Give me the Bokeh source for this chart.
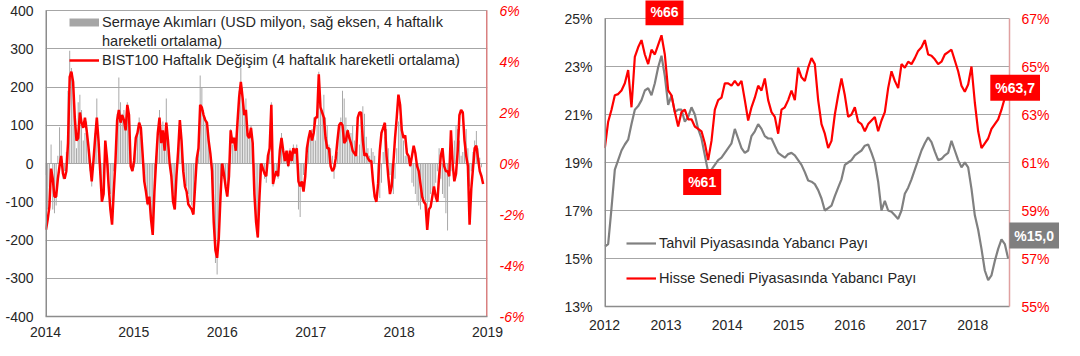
import numpy as np
import pandas as pd
from bokeh.plotting import figure
from bokeh.models import (Range1d, LinearAxis, FixedTicker, PrintfTickFormatter,
                          DatetimeTickFormatter, Legend, LegendItem, Label)
from bokeh.core.properties import value
from bokeh.layouts import row
from bokeh.embed import file_html
from bokeh.resources import INLINE

FONT = "Liberation Sans"
RED = "#ff0000"
BAR = "#a6a6a6"
GRAYLINE = "#808080"
GRID = "#a6a6a6"
TXT = "#262626"
AXIS = "#8c8c8c"

# ---------------- Left chart data (weekly) ----------------
left_years = [2014, 2015, 2016, 2017, 2018, 2019]
left_ticks = [-400, -300, -200, -100, 0, 100, 200, 300, 400]
pct_ticks = [-6, -4, -2, 0, 2, 4, 6]

bist_2014 = [-2.6, -2.2, -1.7, -0.2, -0.6, -1.3, -1.3, -0.6, -0.1, 0.3, -0.4, -0.6, -0.3, 0.8, 3.4, 3.6, 3.2, 1.8,
             0.9, 1.0, 2.0, 1.6, 1.4, 1.8, 1.3, 0.7, 0.0, -0.7, 0.1, 1.0, 1.8, 0.9, -0.3, -1.5, -1.2, 0.9, 0.2,
             -0.9, -1.8, -2.4, -1.1, 0.1, 1.7, 2.1, 1.6, 1.9, 1.7, 1.3, 2.3, 1.9]
bist_2015 = [-0.1, -0.3, 0.1, 1.0, 1.2, 1.6, 1.4, 0.4, -0.7, -1.1, -1.6, -1.3, -2.2, -2.8, -1.1, 0.1, 1.2, 1.8, 0.8,
             1.3, 0.5, 1.6, 0.9, 0.0, -0.5, -1.5, -1.8, -0.5, 0.5, 1.7, 0.9, -0.3, -0.9, -1.1, -1.6, -1.7, -1.8,
             -2.0, -0.9, 0.2, 0.6, 2.3, 2.2, 1.9, 1.7, 1.6, 0.9, 0.4, -0.3, -2.3]
bist_2016 = [-3.4, -3.7, -2.9, -1.3, 0.0, -0.4, -0.9, -1.3, -0.5, 1.3, 0.8, 1.0, 0.5, 1.6, 2.6, 3.2, 2.6, 1.9, 2.1,
             1.1, 1.0, 1.4, 0.8, -1.2, -2.3, -2.9, -1.3, 0.0, -0.2, -0.4, -0.5, 0.3, 0.6, 2.3, -0.8, -0.5, -0.3,
             -0.5, 0.5, 1.0, 0.5, 0.1, 0.5, -0.1, 0.5, 0.1, 0.6, 0.4, 0.6, -0.7, -0.9]
bist_2017 = [-0.7, -1.1, -0.5, 0.6, 1.0, 1.3, 0.9, 1.2, 1.8, 1.8, 3.5, 2.2, 2.0, 1.8, 1.0, 0.6, 0.6, -0.1, -0.3,
             -0.2, 0.2, 0.9, 1.5, 1.6, 1.5, 0.8, 0.9, 1.3, 1.0, 0.8, 0.5, 0.4, 0.3, 1.8, 2.0, 2.0, 0.9, 0.3, 0.4,
             0.2, 0.1, 0.1, -0.7, -1.3, -1.5, -0.8, 0.5, 1.2, 1.4, 1.6]
bist_2018 = [0.3, -0.5, -1.2, -0.9, 0.0, 1.0, 1.8, 2.7, 2.3, 1.3, 1.0, 1.1, 0.4, 0.3, -0.1, 0.3, 0.7, 0.4, -0.1,
             -0.3, -0.8, -1.3, -1.5, -1.6, -2.6, -1.8, -1.7, -1.3, -0.9, -1.3, -1.5, -0.5, 0.3, 0.6, -0.1, -0.3,
             -0.3, -0.5, 1.3, 0.0, -0.7, -0.4, 0.5, 1.9, 2.1, 2.0, 0.9, 0.3, -0.1, -2.4, -1.0, -0.2, 0.6, 0.7,
             0.2, -0.3, -0.5, -0.8]

flows_2014 = [-30, -120, -60, 50, -120, -130, -110, 20, 95, 60, -40, -20, 30, 190, 295, 250, 200, 100, 40, 160,
              180, 140, 60, 80, 110, 40, -20, -60, 20, 80, 170, 40, -30, -90, -60, 50, 20, -40, -80, -100, -20, 60,
              130, 225, 160, 130, 140, 100, 160, 120]
flows_2015 = [10, -20, -10, 60, 80, 120, 70, 20, -40, -80, -110, -90, -150, -160, -60, 20, 80, 140, 60, 110, 40,
              170, 60, -10, -40, -80, -110, -30, 30, 110, 60, -20, -50, -60, -80, -100, -110, -130, -40, 20, 50,
              230, 200, 140, 120, 100, 60, 20, -30, -120]
flows_2016 = [-260, -290, -200, -100, -20, -40, -60, -80, -20, 90, 50, 70, 40, 110, 190, 250, 200, 130, 170, 90, 70,
              100, 40, -80, -150, -195, -100, -10, -20, -40, -50, 20, 40, 160, -60, -30, -20, -40, 30, 80, 40, 10,
              30, -10, 40, 20, 50, 30, 50, -120, -140]
flows_2017 = [-60, -30, -20, 20, 60, 80, 90, 120, 60, 100, 240, 160, 140, 180, 120, 100, 50, 40, 20, -40, -10, 30,
              90, 120, 190, 170, 120, 90, 60, 80, 100, 60, 40, 20, 50, 110, 150, 130, 70, 40, 20, 40, 30, 20, 0,
              -40, -90, -50, 30, 70]
flows_2018 = [90, 40, -30, -60, -80, -40, 40, 110, 120, 90, 60, 20, 40, 20, -10, -50, -60, -80, -100, -110, -120,
              -100, -90, -130, -150, -100, -80, -70, -60, -50, -20, 40, -40, -80, -90, -130, -175, -60, -20, 20, 60,
              100, 90, 60, 20, 30, 60, 90, 40, -60, -20, 30, 60, 85, 40, 15, -10]

bist = bist_2014 + bist_2015 + bist_2016 + bist_2017 + bist_2018
flows = flows_2014 + flows_2015 + flows_2016 + flows_2017 + flows_2018
bist_dates = pd.date_range("2014-01-03", periods=len(bist), freq="7D")
flow_dates = pd.date_range("2014-01-03", periods=len(flows), freq="7D")

# ---------------- Right chart data ----------------
right_years = [2012, 2013, 2014, 2015, 2016, 2017, 2018]
bond_ticks = [13, 15, 17, 19, 21, 23, 25]
equity_ticks = [55, 57, 59, 61, 63, 65, 67]

equity_share = [61.6, 62.7, 63.2, 63.8, 63.85, 64.0, 64.3, 64.85, 63.3, 65.4,
                65.8, 66.1, 65.5, 65.1, 65.7, 65.5, 65.9, 66.3, 65.5, 64.0,
                63.8, 63.1, 62.5, 63.1, 63.2, 62.8, 62.8, 62.5, 62.4, 62.3,
                61.8, 61.1, 61.9, 63.2, 63.6, 63.7, 64.3, 64.3, 64.2, 64.4,
                64.2, 64.4, 63.6, 62.75, 63.3, 63.7, 64.2, 64.0, 64.5, 63.6,
                63.1, 62.9, 62.2, 63.2, 63.3, 63.6, 64.0, 63.6, 64.95, 64.55,
                64.4, 64.95, 65.35, 65.1, 63.6, 62.6, 62.2, 61.6, 61.9, 63.0,
                63.8, 64.5, 63.8, 62.9, 63.0, 63.3, 62.7, 62.6, 62.3, 62.6,
                62.75, 62.9, 62.3, 62.75, 63.1, 64.1, 64.8, 64.4, 64.1, 65.1,
                64.95, 65.2, 65.1, 65.35, 65.65, 65.8, 66.1, 65.5, 65.45, 65.3,
                65.1, 65.2, 65.5, 65.6, 65.7, 65.25, 64.8, 64.2, 63.95, 64.25,
                65.0, 63.5, 62.3, 61.6, 61.8, 62.0, 62.4, 62.6, 62.8, 63.2,
                63.7, 63.7]
bond_share = [15.5, 15.6, 17.1, 18.7, 19.1, 19.5, 19.75, 19.95, 20.6, 21.2,
              21.35, 21.6, 22.0, 22.1, 21.8, 22.3, 22.97, 23.45, 22.6, 21.4,
              21.8, 21.1, 21.2, 21.2, 20.7, 20.9, 21.3, 21.0, 20.4, 20.0,
              19.3, 18.6, 18.7, 18.9, 19.1, 19.2, 19.4, 19.6, 19.8, 20.4,
              20.0, 19.6, 19.4, 19.5, 20.1, 20.3, 20.6, 20.4, 20.1, 20.0,
              20.0, 19.7, 19.4, 19.3, 19.2, 19.35, 19.4, 19.3, 19.1, 18.9,
              18.6, 18.25, 18.2, 18.1, 17.85, 17.5, 17.0, 17.1, 17.2, 17.6,
              17.95, 18.3, 18.9, 19.0, 19.1, 19.3, 19.4, 19.5, 19.7, 19.75,
              19.4, 19.0, 18.2, 17.0, 17.4, 17.0, 16.95, 16.8, 16.65, 17.0,
              17.7, 17.95, 18.3, 18.7, 19.1, 19.5, 19.8, 20.05, 19.85, 19.45,
              19.1, 19.15, 19.3, 19.4, 19.9, 19.5, 19.1, 18.8, 19.0, 18.8,
              17.9, 16.8, 16.2, 15.4, 14.5, 14.1, 14.3, 14.9, 15.4, 15.8,
              15.6, 15.0]
equity_dates = pd.date_range("2012-01-03", "2018-07-31", periods=len(equity_share))
bond_dates = pd.date_range("2012-01-03", "2018-07-31", periods=len(bond_share))

label_peak = "%66"
label_trough = "%61"
label_equity_last = "%63,7"
label_bond_last = "%15,0"

legend_left_1a = "Sermaye Akımları (USD milyon, sağ eksen, 4 haftalık"
legend_left_1b = "hareketli ortalama)"
legend_left_2 = "BIST100 Haftalık Değişim (4 haftalık hareketli ortalama)"
legend_right_1 = "Tahvil Piyasasında Yabancı Payı"
legend_right_2 = "Hisse Senedi Piyasasında Yabancı Payı"


def ms(ts):
    return pd.Timestamp(ts).value / 1e6


def style_axis(ax, color=TXT, line_color=None, italic=False, size="14px", standoff=12):
    ax.axis_line_color = line_color
    ax.axis_line_width = 1.5
    ax.major_tick_line_color = None
    ax.minor_tick_line_color = None
    ax.major_tick_out = 0
    ax.major_tick_in = 0
    ax.major_label_standoff = standoff
    ax.major_label_text_font = FONT
    ax.major_label_text_font_size = size
    ax.major_label_text_color = color
    if italic:
        ax.major_label_text_font_style = "italic"


# Both frames share the same vertical extent (row layouts align them): canvas rows 0..316.
FRAME_BOTTOM = 316

# ---------------- Left figure ----------------
# visible value area spans rows 10..316
lo, hi = left_ticks[0], left_ticks[-1]
l_top = hi + (hi - lo) * 10 / 306
p_top = pct_ticks[-1] + (pct_ticks[-1] - pct_ticks[0]) * 10 / 306

p1 = figure(width=540, height=356, x_axis_type="datetime", title=None,
            x_range=Range1d(ms("2014-01-01"), ms("2019-01-01")), y_range=Range1d(lo, l_top),
            output_backend="svg", toolbar_location=None,
            min_border_left=45, min_border_right=53, min_border_top=0, min_border_bottom=40)
p1.extra_y_ranges = {"pct": Range1d(pct_ticks[0], p_top)}
p1.outline_line_color = None
p1.xgrid.grid_line_color = None
p1.ygrid.grid_line_color = GRID
p1.ygrid.ticker = FixedTicker(ticks=left_ticks)

p1.vbar(x=flow_dates, top=flows, width=4 * 24 * 3600 * 1000, color=BAR, line_color=None)
red_l = p1.line(bist_dates, bist, y_range_name="pct", color=RED, line_width=2.5)

lx0, lx1 = ms("2014-01-01"), ms("2019-01-01")
p1.segment(x0=[lx0], y0=[lo], x1=[lx0], y1=[hi], color=AXIS, line_width=3)
p1.segment(x0=[lx1], y0=[pct_ticks[0]], x1=[lx1], y1=[pct_ticks[-1]], y_range_name="pct",
           color="#d98080", line_width=3)

p1.yaxis.ticker = FixedTicker(ticks=left_ticks)
p1.yaxis.formatter = PrintfTickFormatter(format="%d")
style_axis(p1.yaxis[0])
p1.xaxis.ticker = FixedTicker(ticks=[ms(f"{y}-01-01") for y in left_years])
p1.xaxis.formatter = DatetimeTickFormatter(years="%Y", months="%Y", days="%Y", hours="%Y")
style_axis(p1.xaxis[0], line_color=AXIS, standoff=10)

rax = LinearAxis(y_range_name="pct", ticker=FixedTicker(ticks=pct_ticks),
                 formatter=PrintfTickFormatter(format="%d%%"))
style_axis(rax, color=RED, italic=True)
p1.add_layout(rax, "right")

d_bar = p1.line(x=flow_dates[:2], y=[np.nan, np.nan], color=BAR, line_width=8)
d_blank = p1.line(x=flow_dates[:2], y=[np.nan, np.nan], line_alpha=0)
leg1 = Legend(items=[LegendItem(label=legend_left_1a, renderers=[d_bar]),
                     LegendItem(label=legend_left_1b, renderers=[d_blank]),
                     LegendItem(label=legend_left_2, renderers=[red_l])],
              location=(24, 247), background_fill_alpha=0, border_line_color=None,
              padding=0, margin=0, spacing=1, label_height=18, glyph_height=18, glyph_width=30,
              label_standoff=3, label_text_font=FONT, label_text_font_size="14.5px",
              label_text_color=TXT)
p1.add_layout(leg1)

# ---------------- Right figure ----------------
# The frame is widened (right/top/bottom) so the value boxes are not clipped;
# the visible chart area is bounded by drawn lines.
x0 = ms("2012-01-01")
x1 = ms("2018-08-08")
x_full = x1 + (x1 - x0) * 51 / 405
b_lo, b_hi = bond_ticks[0], bond_ticks[-1]
e_lo, e_hi = equity_ticks[0], equity_ticks[-1]
b_rng = Range1d(b_lo - (b_hi - b_lo) * 10 / 288, b_hi + (b_hi - b_lo) * 18 / 288)
e_rng = Range1d(e_lo - (e_hi - e_lo) * 10 / 288, e_hi + (e_hi - e_lo) * 18 / 288)

p2 = figure(width=540, height=356, x_axis_type="datetime", title=None,
            x_range=Range1d(x0, x_full), y_range=b_rng,
            output_backend="svg", toolbar_location=None,
            min_border_left=64, min_border_right=20, min_border_top=0, min_border_bottom=40)
p2.extra_y_ranges = {"eq": e_rng}
p2.outline_line_color = None
p2.xgrid.grid_line_color = None
p2.ygrid.grid_line_color = None

gl = bond_ticks[1:]
p2.segment(x0=[x0] * len(gl), y0=gl, x1=[x1] * len(gl), y1=gl, color=GRID, line_width=1)

g_line = p2.line(bond_dates, bond_share, color=GRAYLINE, line_width=2.2)
r_line = p2.line(equity_dates, equity_share, y_range_name="eq", color=RED, line_width=2.2)

# frame lines
p2.segment(x0=[x0], y0=[b_lo], x1=[x0], y1=[b_hi], color=AXIS, line_width=3)
p2.segment(x0=[x0], y0=[b_lo], x1=[x1], y1=[b_lo], color=AXIS, line_width=1.5)
p2.segment(x0=[x1], y0=[b_lo], x1=[x1], y1=[b_hi], color="#e0a0a0", line_width=1.5)

p2.yaxis.ticker = FixedTicker(ticks=bond_ticks)
p2.yaxis.formatter = PrintfTickFormatter(format="%d%%")
style_axis(p2.yaxis[0])
p2.xaxis.ticker = FixedTicker(ticks=[ms(f"{y}-01-01") for y in right_years])
p2.xaxis.formatter = DatetimeTickFormatter(years="%Y", months="%Y", days="%Y", hours="%Y")
style_axis(p2.xaxis[0], standoff=3)

# right-hand axis labels (equity share)
p2.text(x=[x1] * len(equity_ticks), y=equity_ticks, text=[f"{t}%" for t in equity_ticks],
        y_range_name="eq", x_offset=12, text_align="left", text_baseline="middle",
        text_font=value(FONT), text_font_size="14px", text_color=RED)

leg2 = Legend(items=[LegendItem(label=legend_right_1, renderers=[g_line]),
                     LegendItem(label=legend_right_2, renderers=[r_line])],
              location=(22, 28), background_fill_alpha=0, border_line_color=None,
              padding=0, margin=0, spacing=15, label_height=20, glyph_height=20, glyph_width=30,
              label_standoff=3, label_text_font=FONT, label_text_font_size="14.5px",
              label_text_color=TXT)
p2.add_layout(leg2)

eq = np.array(equity_share)
i_max = int(np.argmax(eq))
i_min = int(np.argmin(eq[:50]))


def box(x, y, text, fill, xo, yo, rng="default"):
    return Label(x=ms(x), y=y, text=text, y_range_name=rng, x_offset=xo, y_offset=yo,
                 text_align="center", text_baseline="middle", text_color="white",
                 text_font=FONT, text_font_style="bold", text_font_size="14px",
                 background_fill_color=fill, padding=5)


p2.add_layout(box(equity_dates[i_max], eq[i_max], label_peak, RED, 3, 23, "eq"))
p2.add_layout(box(equity_dates[i_min], eq[i_min], label_trough, RED, -6, -22, "eq"))
p2.add_layout(box(equity_dates[-1], eq[-1], label_equity_last, RED, 7, 10, "eq"))
p2.add_layout(box(bond_dates[-1], bond_share[-1], label_bond_last, "#7f7f7f", 26, 23))

layout = row(p1, p2)
open("out.html", "w").write(file_html(layout, INLINE))
